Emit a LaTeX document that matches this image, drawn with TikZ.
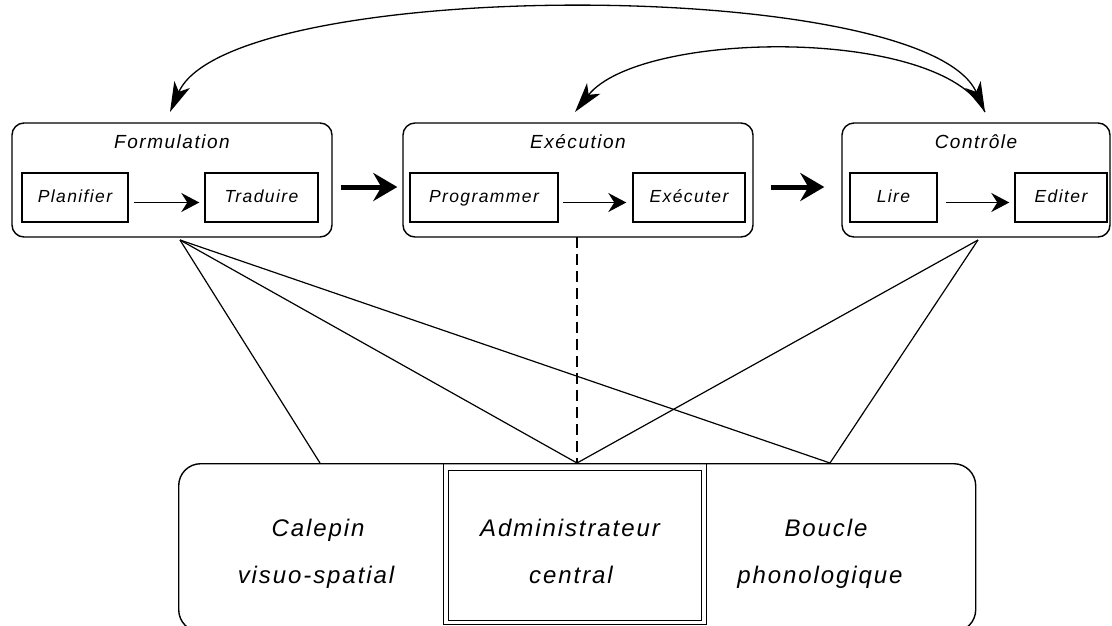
\documentclass[tikz,border=0pt]{standalone}
\usepackage{fontspec}
\setmainfont{Liberation Sans}[LetterSpace=8]
\usetikzlibrary{arrows.meta}
\tikzset{archead/.tip={Stealth[length=30pt,width=17pt,inset=8pt]}}
\begin{document}
\begin{tikzpicture}[x=1pt,y=-1pt,
  phase/.style={draw, line width=1.4pt, rounded corners=12pt, inner sep=0pt, minimum height=114pt},
  subbox/.style={draw, line width=1.4pt, inner sep=0pt, minimum height=49pt, text height=13pt, text depth=4pt, font=\itshape\fontsize{17.5}{20}\selectfont},
  ttl/.style={inner sep=0pt, text height=14pt, text depth=4pt, font=\itshape\fontsize{19}{22}\selectfont},
  mtxt/.style={inner sep=0pt, text height=17pt, text depth=5pt, font=\itshape\fontsize{24}{28}\selectfont},
  flow/.style={line width=5pt, -{Stealth[length=24pt,width=28pt,inset=8pt]}},
  smallarrow/.style={line width=1.6pt, -{Stealth[length=18pt,width=19pt,inset=6pt]}},
  link/.style={line width=1.2pt},
  arcline/.style={line width=1.3pt}
]
\useasboundingbox (0,0) rectangle (1112,625);
\clip (0,0) rectangle (1112,625);

% phase boxes
\node[phase, minimum width=320pt] (form) at (172,180) {};
\node[phase, minimum width=350pt] (exec) at (578,180) {};
\node[phase, minimum width=268pt] (ctrl) at (976,180) {};

\node[ttl] (formt) at (172,143) {Formulation};
\node[ttl] (exect) at (578,143) {Exécution};
\node[ttl] (ctrlt) at (976,143) {Contrôle};

% sub boxes
\node[subbox, minimum width=106pt] (plan) at (75,197.5) {Planifier};
\node[subbox, minimum width=113pt] (trad) at (261.5,197.5) {Traduire};
\node[subbox, minimum width=148pt] (prog) at (484,197.5) {Programmer};
\node[subbox, minimum width=112pt] (exe) at (689,197.5) {Exécuter};
\node[subbox, minimum width=87pt] (lire) at (893.5,197.5) {Lire};
\node[subbox, minimum width=92pt] (edit) at (1061,197.5) {Editer};

\draw[smallarrow, shorten <=5pt, shorten >=5pt] ([yshift=-5pt]plan.east) -- ([yshift=-5pt]trad.west);
\draw[smallarrow, shorten <=4pt, shorten >=6pt] ([yshift=-5pt]prog.east) -- ([yshift=-5pt]exe.west);
\draw[smallarrow, shorten <=8pt, shorten >=5pt] ([yshift=-5pt]lire.east) -- ([yshift=-5pt]edit.west);

% flow arrows between phases
\draw[flow, shorten <=8pt, shorten >=5pt] ([yshift=-7pt]form.east) -- ([yshift=-7pt]exec.west);
\draw[flow, shorten <=17pt, shorten >=17pt] ([yshift=-7pt]exec.east) -- ([yshift=-7pt]ctrl.west);

% arcs on top
\coordinate (ftop) at (170,112);
\coordinate (etop) at (575,112);
\coordinate (ctop) at (985,112);
\draw[arcline, archead-archead] (ctop) .. controls (925,-24) and (230,-24) .. (ftop);
\draw[arcline, -archead] (ctop) .. controls (940,26) and (640,30) .. (etop);

% memory box
\node[draw, line width=1.4pt, rounded corners=22pt, inner sep=0pt, minimum width=797pt, minimum height=168pt, anchor=north west] (mem) at (178,463) {};
\node[draw, line width=1.3pt, inner sep=0pt, minimum width=263pt, minimum height=161pt, anchor=north west] (admout) at (443,463) {};
\node[draw, line width=1.3pt, inner sep=0pt, minimum width=253pt, minimum height=150pt, anchor=north west] (admin) at (448,470) {};

\node[mtxt] (cal1) at (318,530) {Calepin};
\node[mtxt] (cal2) at (316,577) {visuo-spatial};
\node[mtxt] (adm1) at (570,530) {Administrateur};
\node[mtxt] (adm2) at (571,577) {central};
\node[mtxt] (bou1) at (826,530) {Boucle};
\node[mtxt] (bou2) at (820,577) {phonologique};

% connection points
\coordinate (fb) at (180,240);
\coordinate (eb) at (577,237);
\coordinate (cb) at (978,240);
\coordinate (mcal) at (320,463);
\coordinate (madm) at (577,463);
\coordinate (mbou) at (830,463);

\draw[link] (fb) -- (mcal);
\draw[link] (fb) -- (madm);
\draw[link] (fb) -- (mbou);
\draw[link, dash pattern=on 11pt off 6pt] (eb) -- (madm);
\draw[link] (cb) -- (madm);
\draw[link] (cb) -- (mbou);
\end{tikzpicture}
\end{document}
